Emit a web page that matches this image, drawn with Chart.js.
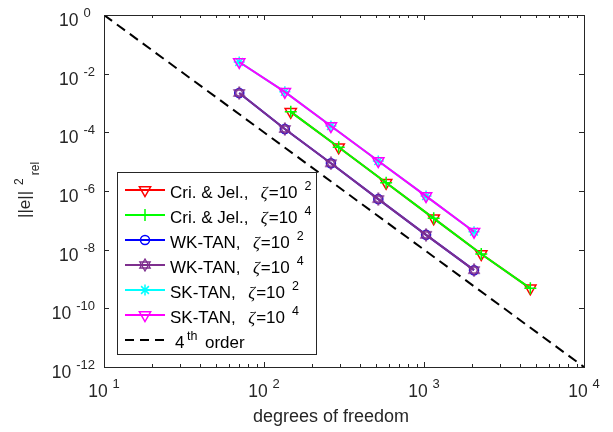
<!DOCTYPE html>
<html>
<head>
<meta charset="utf-8">
<script src="https://cdn.jsdelivr.net/npm/chart.js@4.4.0/dist/chart.umd.min.js"></script>
<style>
  html, body { margin: 0; padding: 0; background: #fff; }
  #wrap { width: 613px; height: 432px; }
</style>
</head>
<body>
<div id="wrap"><canvas id="errChart" width="613" height="432"></canvas></div>
<script>
// degrees of freedom per refinement level
const dofCri = [147, 293, 580, 1150, 2280, 4620];
const dofTan = [70, 135, 262, 518, 1030, 2054];

// relative squared error
const errCri2 = [5.0e-4, 3.1e-5, 1.9e-6, 1.17e-7, 7.1e-9, 4.8e-10];
const errCri4 = [5.0e-4, 3.1e-5, 1.9e-6, 1.17e-7, 7.1e-9, 4.8e-10];
const errWk2 = [2.2e-3, 1.3e-4, 8.8e-6, 5.3e-7, 3.2e-8, 2.0e-9];
const errWk4 = [2.2e-3, 1.3e-4, 8.8e-6, 5.3e-7, 3.2e-8, 2.0e-9];
const errSk2 = [2.5e-2, 2.4e-3, 1.64e-4, 1.05e-5, 6.7e-7, 4.1e-8];
const errSk4 = [2.5e-2, 2.4e-3, 1.64e-4, 1.05e-5, 6.7e-7, 4.1e-8];

// 4th order reference line
const refDof = [10, 10000];
const refErr = [1, 1e-12];

// tick exponents (labels are 10^e)
const xTickExp = [1, 2, 3, 4];
const yTickExp = [0, -2, -4, -6, -8, -10, -12];

const legendNames = ['Cri. & Jel.,', 'Cri. & Jel.,', 'WK-TAN,', 'WK-TAN,', 'SK-TAN,', 'SK-TAN,'];
const legendZeta = ['2', '4', '2', '4', '2', '4'];

const TXT = '#262626';
const SANS = '"Liberation Sans", Arial, Helvetica, sans-serif';

function pts(xs, ys) {
    return xs.map((x, i) => ({x: x, y: ys[i]}));
}

// purple hexagram marker
function hexagram(color) {
    const c = document.createElement('canvas');
    c.width = 14; c.height = 14;
    const g = c.getContext('2d');
    g.strokeStyle = color;
    g.lineWidth = 1.3;
    for (let k = 0; k < 2; k++) {
        g.beginPath();
        for (let i = 0; i < 3; i++) {
            const a = Math.PI / 2 + k * Math.PI + i * 2 * Math.PI / 3;
            const px = 7 + 6 * Math.cos(a), py = 7 - 6 * Math.sin(a);
            if (i) g.lineTo(px, py); else g.moveTo(px, py);
        }
        g.closePath();
        g.stroke();
    }
    return c;
}

const series = [
    {data: pts(dofCri, errCri2), color: '#ff0000', style: 'triangle', r: 6.5, rot: 180},
    {data: pts(dofCri, errCri4), color: '#00ff00', style: 'cross', r: 6, rot: 0},
    {data: pts(dofTan, errWk2), color: '#0000ff', style: 'circle', r: 4.5, rot: 0},
    {data: pts(dofTan, errWk4), color: '#7e2f8e', style: hexagram('#7e2f8e'), r: 6, rot: 0},
    {data: pts(dofTan, errSk2), color: '#00ffff', style: 'star', r: 5.5, rot: 0},
    {data: pts(dofTan, errSk4), color: '#ff00ff', style: 'triangle', r: 6.5, rot: 180},
];

const datasets = series.map((s, i) => ({
    label: legendNames[i],
    data: s.data,
    borderColor: s.color,
    borderWidth: 2,
    pointStyle: s.style,
    pointRadius: s.r,
    pointRotation: s.rot,
    pointBorderColor: s.color,
    pointBackgroundColor: 'rgba(0,0,0,0)',
    pointBorderWidth: 1.5,
    order: 10 - i
}));
datasets.push({
    label: '4th order',
    data: pts(refDof, refErr),
    borderColor: '#000000',
    borderWidth: 2,
    borderDash: [10, 6],
    pointRadius: 0,
    order: 1
});

function powText(ctx, x, y, exp, big, small, gap, align) {
    ctx.font = big + 'px ' + SANS;
    const w10 = ctx.measureText('10').width;
    ctx.font = small + 'px ' + SANS;
    const wExp = ctx.measureText(exp).width;
    const wAlign = exp[0] === '-' ? wExp : ctx.measureText('-' + exp).width;
    let x0;
    if (align === 'center') x0 = x - (w10 + gap + wExp) / 2;
    else x0 = x - (w10 + gap + wAlign);
    ctx.textAlign = 'left';
    ctx.font = big + 'px ' + SANS;
    ctx.fillText('10', x0, y);
    ctx.font = small + 'px ' + SANS;
    ctx.fillText(exp, x0 + w10 + gap, y - 9);
}

const matlabAxes = {
    id: 'matlabAxes',
    afterDraw(chart) {
        const ctx = chart.ctx;
        const a = chart.chartArea;
        const xs = chart.scales.x, ys = chart.scales.y;
        ctx.save();
        ctx.strokeStyle = TXT;
        ctx.fillStyle = TXT;
        ctx.lineWidth = 1;

        // box
        ctx.strokeRect(Math.round(a.left) + 0.5, Math.round(a.top) + 0.5,
            Math.round(a.right - a.left), Math.round(a.bottom - a.top));

        // x ticks (major + minor), top and bottom
        ctx.beginPath();
        for (let d = 0; d < xTickExp.length; d++) {
            const base = Math.pow(10, xTickExp[d]);
            for (let m = 1; m < 10; m++) {
                if (m > 1 && d === xTickExp.length - 1) break;
                const px = Math.round(xs.getPixelForValue(m * base)) + 0.5;
                const len = m === 1 ? 5 : 3;
                ctx.moveTo(px, a.bottom); ctx.lineTo(px, a.bottom - len);
                ctx.moveTo(px, a.top); ctx.lineTo(px, a.top + len);
            }
        }
        // y ticks, left and right
        yTickExp.forEach(e => {
            const py = Math.round(ys.getPixelForValue(Math.pow(10, e))) + 0.5;
            ctx.moveTo(a.left, py); ctx.lineTo(a.left + 5, py);
            ctx.moveTo(a.right, py); ctx.lineTo(a.right - 5, py);
        });
        ctx.stroke();

        // tick labels
        ctx.textBaseline = 'alphabetic';
        xTickExp.forEach(e => {
            const px = xs.getPixelForValue(Math.pow(10, e));
            powText(ctx, px, a.bottom + 30, String(e), 17.5, 13, 5, 'center');
        });
        yTickExp.forEach(e => {
            const py = ys.getPixelForValue(Math.pow(10, e));
            powText(ctx, a.left - 9, py + 11, String(e), 17.5, 13, 5, 'right');
        });

        // x title
        ctx.font = '18px ' + SANS;
        ctx.textAlign = 'center';
        ctx.fillText('degrees of freedom', 331, 422);

        // y title: ||e||^2_rel, rotated
        ctx.save();
        ctx.translate(30, 218);
        ctx.rotate(-Math.PI / 2);
        ctx.textAlign = 'left';
        ctx.font = '17px ' + SANS;
        ctx.fillText('||e||', 0, 0);
        let tx = ctx.measureText('||e||').width + 6;
        ctx.font = '12px ' + SANS;
        ctx.fillText('2', tx, -7);
        tx += ctx.measureText('2').width + 3;
        ctx.fillText('rel', tx, 9);
        ctx.restore();

        drawLegend(ctx);
        ctx.restore();
    }
};

function drawLegend(ctx) {
    const bx = 117, by = 172, bw = 199, bh = 182;
    ctx.fillStyle = '#ffffff';
    ctx.fillRect(bx, by, bw, bh);
    ctx.strokeStyle = TXT;
    ctx.lineWidth = 1;
    ctx.strokeRect(bx + 0.5, by + 0.5, bw, bh);

    const helpers = Chart.helpers;
    series.forEach((s, i) => {
        const base = 198 + 25 * i;
        const ly = base - 8;
        ctx.strokeStyle = s.color;
        ctx.lineWidth = 2;
        ctx.setLineDash([]);
        ctx.beginPath();
        ctx.moveTo(125, ly); ctx.lineTo(165, ly);
        ctx.stroke();
        if (helpers && helpers.drawPoint) {
            ctx.fillStyle = 'rgba(0,0,0,0)';
            ctx.lineWidth = 1.5;
            helpers.drawPoint(ctx, {pointStyle: s.style, radius: s.r, rotation: s.rot, borderWidth: 1.5}, 145, ly);
        }
        ctx.fillStyle = '#000000';
        ctx.textAlign = 'left';
        ctx.font = '17px ' + SANS;
        let tx = 170;
        ctx.fillText(legendNames[i] + '  ', tx, base);
        tx += ctx.measureText(legendNames[i] + '  ').width + 3;
        ctx.font = 'italic 17px "Liberation Serif", "DejaVu Serif", serif';
        ctx.fillText('\u03b6', tx, base);
        tx += ctx.measureText('\u03b6').width + 1;
        ctx.font = '17px ' + SANS;
        ctx.fillText('=10', tx, base);
        tx += ctx.measureText('=10').width + 7;
        ctx.font = '12.5px ' + SANS;
        ctx.fillText(legendZeta[i], tx, base - 8);
    });

    // 4th order row
    const base = 198 + 25 * 6;
    ctx.strokeStyle = '#000000';
    ctx.lineWidth = 2;
    ctx.setLineDash([9, 6]);
    ctx.beginPath();
    ctx.moveTo(125, base - 8); ctx.lineTo(165, base - 8);
    ctx.stroke();
    ctx.setLineDash([]);
    ctx.fillStyle = '#000000';
    ctx.font = '17px ' + SANS;
    ctx.fillText('4', 175, base);
    ctx.font = '12.5px ' + SANS;
    ctx.fillText('th', 187, base - 8);
    ctx.font = '17px ' + SANS;
    ctx.fillText('order', 205, base);
}

new Chart(document.getElementById('errChart').getContext('2d'), {
    type: 'line',
    data: {datasets: datasets},
    options: {
        responsive: false,
        animation: false,
        devicePixelRatio: 1,
        events: [],
        layout: {padding: {left: 104, top: 15, right: 29, bottom: 65}},
        plugins: {legend: {display: false}, tooltip: {enabled: false}},
        scales: {
            x: {
                type: 'logarithmic', min: 10, max: 10000,
                ticks: {display: false}, grid: {display: false}, border: {display: false},
                afterFit: s => { s.height = 0; }
            },
            y: {
                type: 'logarithmic', min: 1e-12, max: 1,
                ticks: {display: false}, grid: {display: false}, border: {display: false},
                afterFit: s => { s.width = 0; }
            }
        }
    },
    plugins: [matlabAxes]
});
</script>
</body>
</html>
